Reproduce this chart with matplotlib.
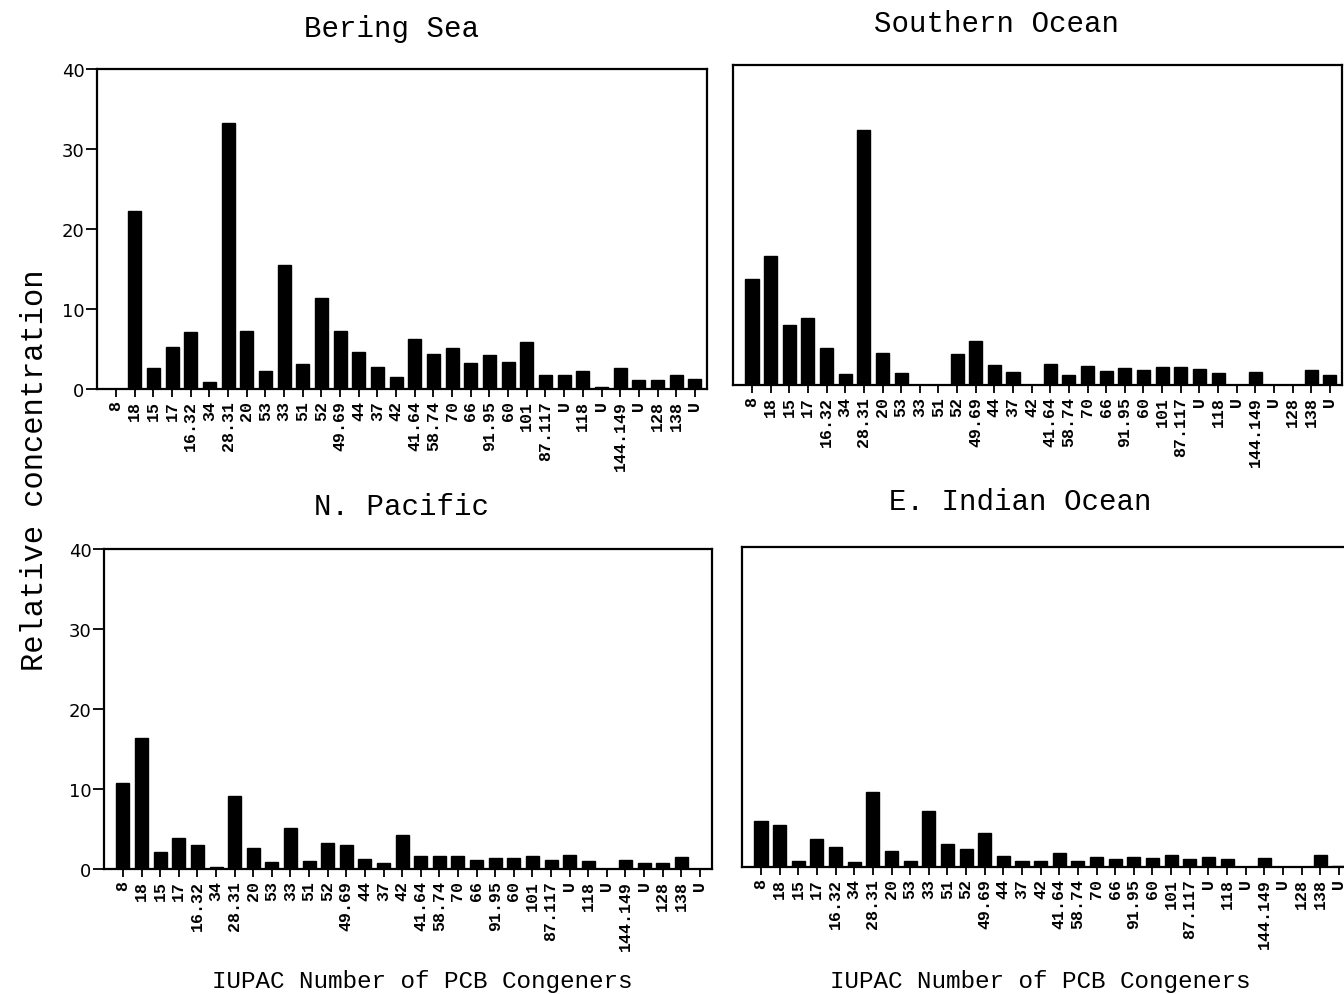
import matplotlib
matplotlib.use("Agg")
import matplotlib.pyplot as plt
import numpy as np

# ---------------------------------------------------------------------------
# data (relative concentration, %)
# ---------------------------------------------------------------------------
congeners = ['8', '18', '15', '17', '16.32', '34', '28.31', '20', '53', '33',
             '51', '52', '49.69', '44', '37', '42', '41.64', '58.74', '70',
             '66', '91.95', '60', '101', '87.117', 'U', '118', 'U', '144.149',
             'U', '128', '138', 'U']

bering = [0, 22.2, 2.6, 5.3, 7.1, 0.9, 33.2, 7.2, 2.3, 15.5,
          3.1, 11.4, 7.2, 4.6, 2.7, 1.5, 6.2, 4.4, 5.1,
          3.3, 4.3, 3.4, 5.9, 1.7, 1.7, 2.3, 0.2, 2.6,
          1.1, 1.1, 1.8, 1.2]

southern = [13.3, 16.1, 7.5, 8.4, 4.6, 1.4, 31.9, 4.0, 1.5, 0,
            0, 3.9, 5.5, 2.5, 1.6, 0, 2.6, 1.3, 2.4,
            1.7, 2.1, 1.9, 2.3, 2.3, 2.0, 1.5, 0, 1.6,
            0, 0, 1.9, 1.2]

npacific = [10.7, 16.4, 2.1, 3.9, 3.0, 0.3, 9.1, 2.6, 0.9, 5.1,
            0.95, 3.2, 3.0, 1.3, 0.7, 4.2, 1.6, 1.6, 1.6,
            1.1, 1.4, 1.4, 1.6, 1.1, 1.7, 0.95, 0, 1.1,
            0.8, 0.8, 1.45, 0]

eindian = [5.7, 5.2, 0.8, 3.5, 2.5, 0.6, 9.4, 2.0, 0.8, 7.0,
           2.9, 2.3, 4.2, 1.4, 0.8, 0.8, 1.7, 0.7, 1.2,
           1.0, 1.25, 1.15, 1.5, 1.0, 1.3, 1.0, 0, 1.1,
           0, 0, 1.5, 0.1]

W, H = 1344, 995
MONO = 'Liberation Mono'

fig = plt.figure(figsize=(W / 100, H / 100), dpi=100)


def px_axes(left, bottom, right, top):
    # pixel box (image coords, y down) -> figure axes
    return fig.add_axes([left / W, 1 - bottom / H, (right - left) / W, (bottom - top) / H])


def draw_panel(ax, values, show_y):
    x = np.arange(len(congeners))
    ax.bar(x, values, width=0.7, color='black', edgecolor='black')
    ax.set_xlim(-1.02, 31.65)
    ax.set_ylim(0, 40)
    for s in ax.spines.values():
        s.set_linewidth(1.6)
    ax.set_xticks(x)
    ax.set_xticklabels(congeners, rotation=90, ha='center', va='top',
                       family=MONO, fontweight='bold', fontsize=12)
    ax.tick_params(axis='x', direction='out', length=6, width=1.3, pad=2)
    ax.set_yticks([0, 10, 20, 30, 40])
    if show_y:
        ax.tick_params(axis='y', direction='out', length=8, width=1.3,
                       labelsize=13, pad=1)
    else:
        ax.tick_params(axis='y', left=False, labelleft=False)


panels = [
    (bering, (97, 390, 707, 70), True),
    (southern, (733, 386, 1342, 66), False),
    (npacific, (104, 870, 712, 550), True),
    (eindian, (742, 868, 1351, 548), False),
]
for vals, box, show_y in panels:
    draw_panel(px_axes(*box), vals, show_y)

# panel titles
titles = [('Bering Sea', 391, 29), ('Southern Ocean', 997, 24),
          ('N. Pacific', 401, 507), ('E. Indian Ocean', 1020, 502)]
for txt, tx, ty in titles:
    fig.text(tx / W, 1 - ty / H, txt, family=MONO, fontsize=21,
             ha='center', va='center')

fig.text(35 / W, 1 - 470 / H, 'Relative concentration', family=MONO,
         fontsize=22, rotation=90, ha='center', va='center')
for cx in (422, 1040):
    fig.text(cx / W, 1 - 982 / H, 'IUPAC Number of PCB Congeners',
             family=MONO, fontsize=17.5, ha='center', va='center')

fig.savefig('out.png', dpi=100)
